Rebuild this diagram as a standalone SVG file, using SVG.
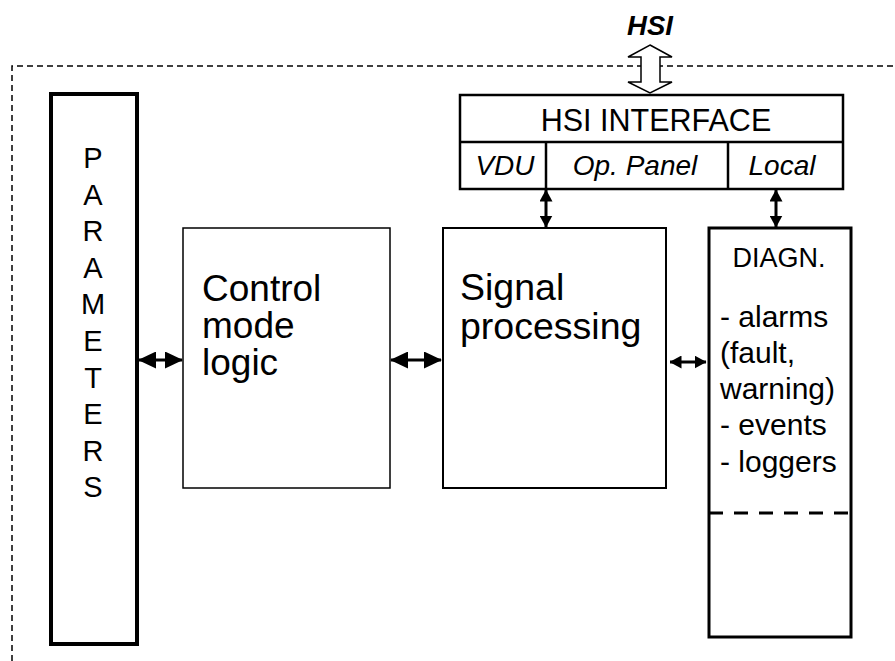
<svg xmlns="http://www.w3.org/2000/svg" width="895" height="661" viewBox="0 0 895 661">
<defs>
<style>
text{font-family:"Liberation Sans",Arial,sans-serif;fill:#000}
.box{fill:#fff;stroke:#000}
.it{font-style:italic}
.con{stroke:#000;stroke-width:3;fill:none}
</style>
<marker id="big" viewBox="0 0 18 17" refX="17" refY="8.5" markerWidth="18" markerHeight="17" orient="auto-start-reverse" markerUnits="userSpaceOnUse">
<path d="M0,0 L18,8.5 L0,17 z" fill="#000"/>
</marker>
<marker id="med" viewBox="0 0 12 13" refX="11.5" refY="6.5" markerWidth="12" markerHeight="13" orient="auto-start-reverse" markerUnits="userSpaceOnUse">
<path d="M0,0 L12,6.5 L0,13 z" fill="#000"/>
</marker>
</defs>
<rect width="895" height="661" fill="#fff"/>
<g id="boundary">
<path d="M12,661 V66 H895" fill="none" stroke="#000" stroke-width="1.5" stroke-dasharray="6,4"/>
</g>
<g id="hsi">
<text x="650" y="35" font-size="27.5" font-weight="bold" font-style="italic" text-anchor="middle">HSI</text>
</g>
<g id="connectors">
<path d="M650,45 L672,57 L660,57 L660,82 L672,82 L650,93 L628,82 L641,82 L641,57 L628,57 Z" fill="#fff" stroke="#000" stroke-width="1.5"/>
<line class="con" x1="546" y1="190" x2="546" y2="227" marker-start="url(#med)" marker-end="url(#med)"/>
<line class="con" x1="776" y1="190" x2="776" y2="227" marker-start="url(#med)" marker-end="url(#med)"/>
<line class="con" x1="139" y1="360" x2="182" y2="360" marker-start="url(#big)" marker-end="url(#big)"/>
<line class="con" x1="391" y1="360" x2="441" y2="360" marker-start="url(#big)" marker-end="url(#big)"/>
<line class="con" x1="670" y1="362" x2="706" y2="362" marker-start="url(#med)" marker-end="url(#med)"/>
</g>
<g id="hsi-interface">
<rect class="box" x="460" y="95" width="383" height="94" stroke-width="2.5"/>
<line x1="460" y1="142" x2="843" y2="142" stroke="#000" stroke-width="2.5"/>
<line x1="546" y1="142" x2="546" y2="189" stroke="#000" stroke-width="2.5"/>
<line x1="728" y1="142" x2="728" y2="189" stroke="#000" stroke-width="2.5"/>
<text x="656" y="131" font-size="30.5" text-anchor="middle">HSI INTERFACE</text>
<text class="it" x="505" y="175" font-size="28" text-anchor="middle">VDU</text>
<text class="it" x="635" y="175" font-size="28" text-anchor="middle">Op. Panel</text>
<text class="it" x="782" y="175" font-size="28" text-anchor="middle">Local</text>
</g>
<g id="parameters">
<rect class="box" x="51" y="94" width="86" height="550" stroke-width="4"/>
<g font-size="29" text-anchor="middle">
<text x="93" y="168">P</text>
<text x="93" y="204.6">A</text>
<text x="93" y="241.2">R</text>
<text x="93" y="277.8">A</text>
<text x="93" y="314.4">M</text>
<text x="93" y="351">E</text>
<text x="93" y="387.6">T</text>
<text x="93" y="424.2">E</text>
<text x="93" y="460.8">R</text>
<text x="93" y="497.4">S</text>
</g>
</g>
<g id="control-mode-logic">
<rect class="box" x="183" y="228" width="207" height="260" stroke-width="1.5"/>
<g font-size="37">
<text x="202" y="301">Control</text>
<text x="202" y="338">mode</text>
<text x="202" y="375">logic</text>
</g>
</g>
<g id="signal-processing">
<rect class="box" x="443" y="228" width="223" height="260" stroke-width="2"/>
<g font-size="37.5">
<text x="460" y="300">Signal</text>
<text x="460" y="339">processing</text>
</g>
</g>
<g id="diagn">
<rect class="box" x="709" y="228" width="142" height="409" stroke-width="3"/>
<line x1="709" y1="513" x2="851" y2="513" stroke="#000" stroke-width="3" stroke-dasharray="14,11"/>
<text x="779" y="267" font-size="27" text-anchor="middle">DIAGN.</text>
<g font-size="30">
<text x="720" y="327">- alarms</text>
<text x="720" y="363">(fault,</text>
<text x="720" y="399">warning)</text>
<text x="720" y="435">- events</text>
<text x="720" y="472">- loggers</text>
</g>
</g>
</svg>
